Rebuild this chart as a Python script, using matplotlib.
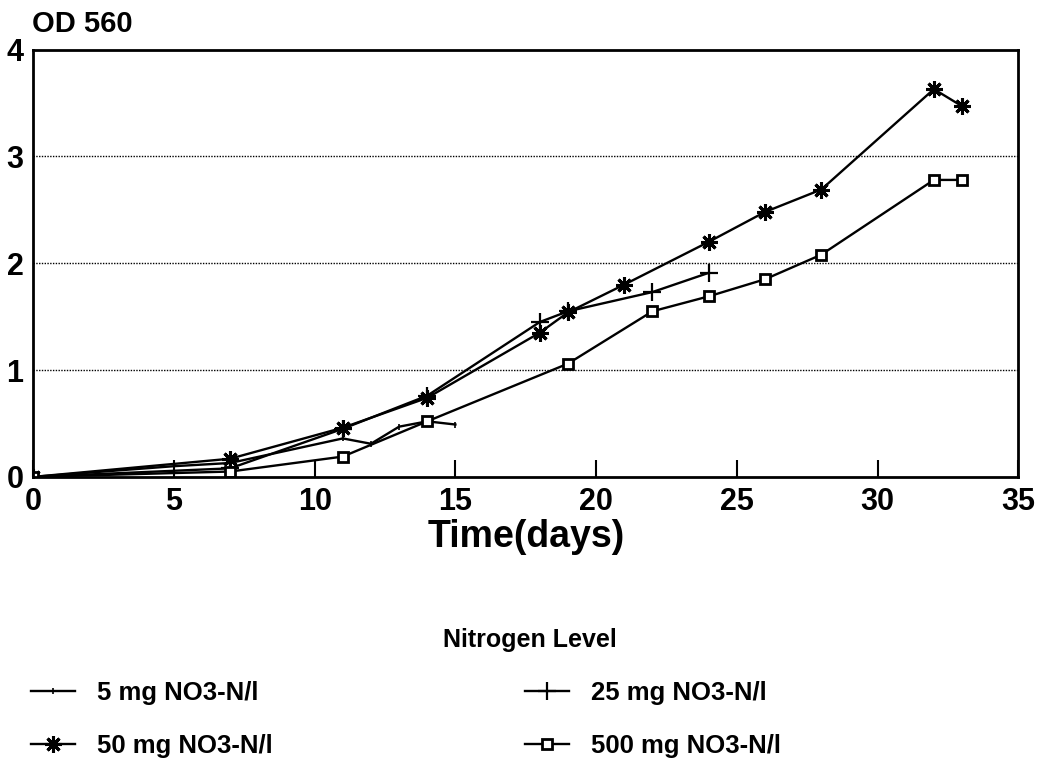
import matplotlib.pyplot as plt
from matplotlib import font_manager

# growth data (day, OD 560)
days_5 = [0, 5, 7, 11, 12, 13, 14, 15]
od_5 = [0, 0.10, 0.13, 0.36, 0.31, 0.47, 0.52, 0.49]

days_25 = [0, 7, 11, 14, 18, 19, 22, 24]
od_25 = [0, 0.08, 0.45, 0.76, 1.45, 1.55, 1.73, 1.91]

days_50 = [0, 7, 11, 14, 18, 19, 21, 24, 26, 28, 32, 33]
od_50 = [0, 0.17, 0.46, 0.74, 1.35, 1.54, 1.80, 2.20, 2.48, 2.69, 3.63, 3.47]

days_500 = [0, 7, 11, 14, 19, 22, 24, 26, 28, 32, 33]
od_500 = [0, 0.05, 0.19, 0.52, 1.06, 1.55, 1.69, 1.85, 2.08, 2.78, 2.78]

labels = ["5 mg NO3-N/l", "25 mg NO3-N/l", "50 mg NO3-N/l", "500 mg NO3-N/l"]

names = {f.name for f in font_manager.fontManager.ttflist}
narrow = "Liberation Sans Narrow" if "Liberation Sans Narrow" in names else "Liberation Sans"
plt.rcParams["font.family"] = ["Liberation Sans", "DejaVu Sans"]
plt.rcParams["font.weight"] = "bold"

fig = plt.figure(figsize=(10.37, 7.63), dpi=100)
ax = fig.add_axes([0.032, 0.375, 0.950, 0.560])

lw = 1.7
l5, = ax.plot(days_5, od_5, color="black", lw=lw, marker="|", ms=4, mew=1.2)
l25, = ax.plot(days_25, od_25, color="black", lw=lw, marker="+", ms=13, mew=1.6)
l50, = ax.plot(days_50, od_50, color="black", lw=lw, marker=(8, 2, 0), ms=12, mew=2.2)
l500, = ax.plot(days_500, od_500, color="black", lw=lw, marker="s", ms=7,
                mfc="white", mew=2)

ax.set_xlim(0, 35)
ax.set_ylim(0, 4)
ax.set_xticks(range(0, 36, 5))
ax.set_yticks(range(0, 5))
for y in (1, 2, 3):
    ax.axhline(y, color="black", lw=1, ls=(0, (1, 1)))
ax.tick_params(axis="x", direction="in", length=12, width=1.5, labelsize=22, pad=7)
ax.tick_params(axis="y", length=0, labelsize=22, pad=7)
for s in ax.spines.values():
    s.set_linewidth(2)

ax.set_xlabel("Time(days)", fontsize=27, fontfamily=narrow, fontweight="bold", labelpad=2)
fig.text(0.031, 0.968, "OD 560", fontsize=21, fontweight="bold", ha="left", va="center")

fig.text(530 / 1037, 1 - 640 / 763, "Nitrogen Level", fontsize=18, fontweight="bold",
         ha="center", va="center")
fig.legend([l5, l50, l25, l500], [labels[0], labels[2], labels[1], labels[3]],
           ncol=2, loc="upper left", bbox_to_anchor=(0.03, 0.108),
           frameon=False, fontsize=18.5, borderpad=0, borderaxespad=0,
           handlelength=1.7, columnspacing=9.85, labelspacing=1.14,
           handletextpad=0.85)

fig.savefig("out.png", dpi=100)
